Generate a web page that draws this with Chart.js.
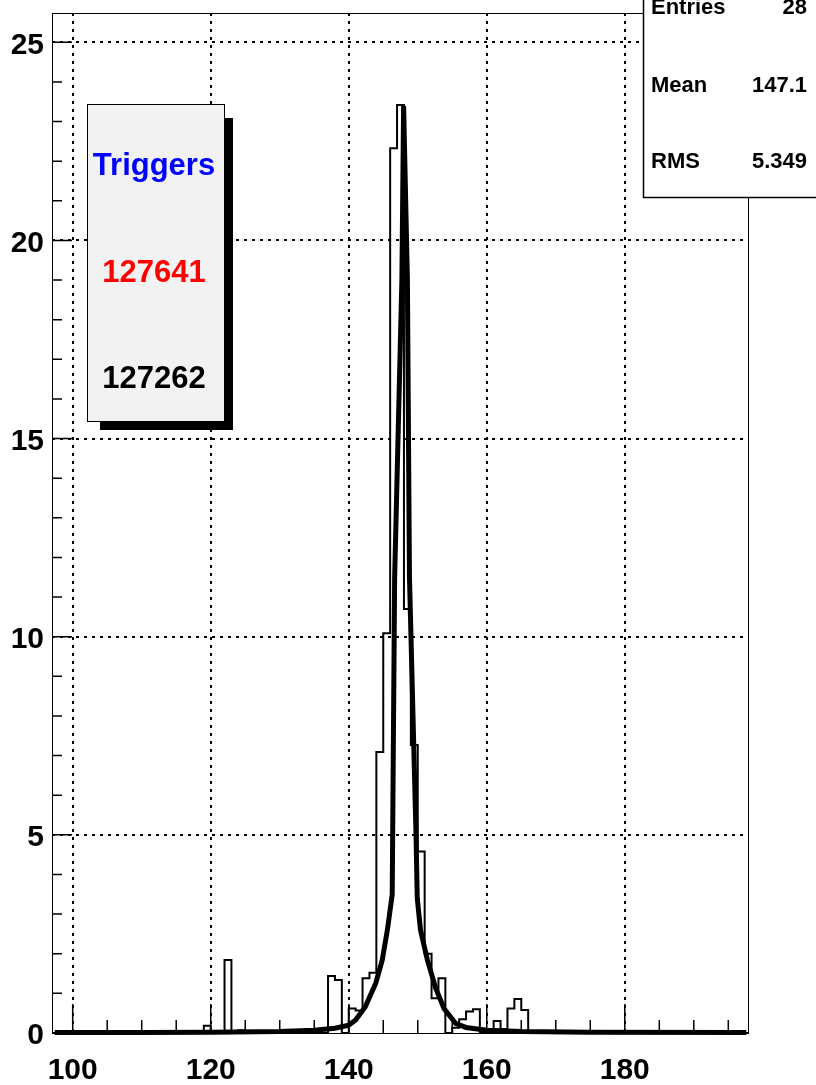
<!DOCTYPE html>
<html lang="en">
<head>
<meta charset="UTF-8">
<title>Histogram</title>
<script src="https://cdn.jsdelivr.net/npm/chart.js@4"></script>
<style>
  html, body { margin: 0; padding: 0; background: #fff; }
</style>
</head>
<body>
<canvas id="viz" width="816" height="1085"></canvas>
<script>
// histogram: one bin per unit, first bin starts at 97
const binStart = 97
const binCounts = [
  0, 0, 0,
  0, 0, 0, 0, 0, 0, 0, 0, 0, 0,                       // 100-109
  0, 0, 0, 0, 0, 0, 0, 0, 0, 0.18,                    // 110-119
  0, 0, 1.84, 0, 0.07, 0, 0, 0, 0, 0,                 // 120-129
  0, 0, 0, 0, 0, 0, 0, 1.44, 1.34, 0,                 // 130-139
  0.62, 0.57, 1.38, 1.52, 7.09, 10.09, 22.33, 23.42, 10.7, 7.27, // 140-149
  4.58, 2.0, 0.88, 1.38, 0, 0.13, 0.35, 0.54, 0.6, 0, // 150-159
  0, 0.3, 0.1, 0.62, 0.86, 0.58, 0, 0, 0, 0,         // 160-169
  0, 0, 0, 0, 0, 0, 0, 0, 0, 0,                       // 170-179
  0, 0, 0, 0, 0, 0, 0, 0, 0, 0,                       // 180-189
  0, 0, 0, 0, 0, 0, 0, 0                              // 190-197
]

// fit curve
const fitX = [97.4, 110, 120, 130, 135, 138, 140, 141, 142.4, 143.9, 144.85, 145.6, 146.3, 146.65, 147.7, 147.95,
  148.5, 148.8, 149.75, 149.93, 150.4, 151.4, 152.6, 153.8, 155.5, 157, 160, 165, 175, 197.6]
const fitY = [0.01, 0.01, 0.02, 0.04, 0.07, 0.12, 0.2, 0.33, 0.66, 1.25, 1.84, 2.6, 3.5, 11.5, 19, 23.4,
  19, 11.5, 5, 3.4, 2.6, 1.84, 1.13, 0.62, 0.24, 0.14, 0.07, 0.04, 0.02, 0.01]

const xTickLabels = [100, 120, 140, 160, 180]
const yTickLabels = [0, 5, 10, 15, 20, 25]

const statsNames = ['Entries', 'Mean', 'RMS']
const statsValues = ['28', '147.1', '5.349']
const triggerLines = ['Triggers', '127641', '127262']
const triggerColors = ['#0000ff', '#ff0000', '#000000']

const fontFamily = '"Liberation Sans", Arial, Helvetica, sans-serif'

window.onload = () => {
  const viz = document.getElementById('viz')

  const histPoints = binCounts.map((v, i) => ({ x: binStart + i, y: v }))
  histPoints.push({ x: binStart + binCounts.length, y: binCounts[binCounts.length - 1] })
  const fitPoints = fitX.map((x, i) => ({ x: x, y: fitY[i] }))

  // no extra room for the end labels, the frame sits at fixed pixels
  const noPad = axis => {
    axis.paddingTop = 0
    axis.paddingBottom = 0
    axis.paddingLeft = 0
    axis.paddingRight = 0
  }

  const rootDecor = {
    id: 'rootDecor',
    beforeDatasetsDraw(chart) {
      const { ctx, chartArea, scales } = chart
      const xs = scales.x
      const ys = scales.y
      ctx.save()
      ctx.strokeStyle = '#000'
      ctx.lineWidth = 1.5
      ctx.beginPath()
      // y ticks every unit, longer on labelled ones
      for (let v = 0; v <= 25; v++) {
        const y = ys.getPixelForValue(v)
        const len = v % 5 === 0 ? 20 : 10
        ctx.moveTo(chartArea.left, y)
        ctx.lineTo(chartArea.left + len, y)
      }
      // x ticks every 5
      for (let v = 100; v < 198; v += 5) {
        const x = xs.getPixelForValue(v)
        const len = v % 20 === 0 ? 29 : 13
        ctx.moveTo(x, chartArea.bottom)
        ctx.lineTo(x, chartArea.bottom - len)
      }
      ctx.stroke()
      ctx.restore()
    },
    afterDraw(chart) {
      const { ctx, chartArea } = chart
      ctx.save()
      // frame
      ctx.strokeStyle = '#000'
      ctx.lineWidth = 1
      ctx.strokeRect(chartArea.left + 0.5, chartArea.top + 0.5,
        chartArea.right - chartArea.left - 1, chartArea.bottom - chartArea.top)

      // triggers box with shadow
      ctx.fillStyle = '#000'
      ctx.fillRect(100, 118, 133, 312)
      ctx.fillStyle = '#f2f2f2'
      ctx.fillRect(87.5, 104.5, 137, 317)
      ctx.strokeRect(87.5, 104.5, 137, 317)
      ctx.font = 'bold 31px ' + fontFamily
      ctx.textAlign = 'center'
      ctx.textBaseline = 'alphabetic'
      const trigBase = [175, 282, 388]
      triggerLines.forEach((t, i) => {
        ctx.fillStyle = triggerColors[i]
        ctx.fillText(t, 154, trigBase[i])
      })

      // stats box
      ctx.fillStyle = '#fff'
      ctx.fillRect(643.5, -2, 200, 199.5)
      ctx.strokeStyle = '#000'
      ctx.lineWidth = 1.5
      ctx.strokeRect(643.5, -2, 200, 199.5)
      ctx.fillStyle = '#000'
      ctx.font = 'bold 22px ' + fontFamily
      const statBase = [14, 92, 168]
      statsNames.forEach((n, i) => {
        ctx.textAlign = 'left'
        ctx.fillText(n, 651, statBase[i])
        ctx.textAlign = 'right'
        ctx.fillText(statsValues[i], 807, statBase[i])
      })
      ctx.restore()
    }
  }

  new Chart(viz, {
    type: 'line',
    data: {
      datasets: [
        {
          label: 'fit',
          data: fitPoints,
          borderColor: '#000',
          borderWidth: 5,
          pointRadius: 0,
          tension: 0,
          fill: false,
          clip: 6
        },
        {
          label: 'hist',
          data: histPoints,
          stepped: 'before',
          borderColor: '#000',
          borderWidth: 2,
          pointRadius: 0,
          fill: false
        }
      ]
    },
    options: {
      responsive: false,
      animation: false,
      layout: { padding: { top: 13, right: 67, left: 0, bottom: 0 } },
      plugins: {
        legend: { display: false },
        tooltip: { enabled: false },
        title: { display: false }
      },
      scales: {
        x: {
          type: 'linear',
          min: 97,
          max: 198,
          afterBuildTicks: axis => { axis.ticks = xTickLabels.map(v => ({ value: v })) },
          afterFit: axis => { axis.height = 52; noPad(axis) },
          grid: { color: '#000', lineWidth: 2, drawTicks: false },
          border: { display: false, dash: [3, 5] },
          ticks: {
            color: '#000',
            padding: 20,
            maxRotation: 0,
            autoSkip: false,
            font: { family: fontFamily, size: 30, weight: 'bold' }
          }
        },
        y: {
          type: 'linear',
          min: 0,
          max: 25.74,
          afterBuildTicks: axis => { axis.ticks = yTickLabels.map(v => ({ value: v })) },
          afterFit: axis => { axis.width = 52; noPad(axis) },
          grid: { color: ctx => ctx.tick && ctx.tick.value === 0 ? 'rgba(0,0,0,0)' : '#000', lineWidth: 2, drawTicks: false },
          border: { display: false, dash: [3, 5] },
          ticks: {
            color: '#000',
            padding: 8,
            labelOffset: 3,
            autoSkip: false,
            font: { family: fontFamily, size: 30, weight: 'bold' }
          }
        }
      }
    },
    plugins: [rootDecor]
  })
}
</script>
</body>
</html>
